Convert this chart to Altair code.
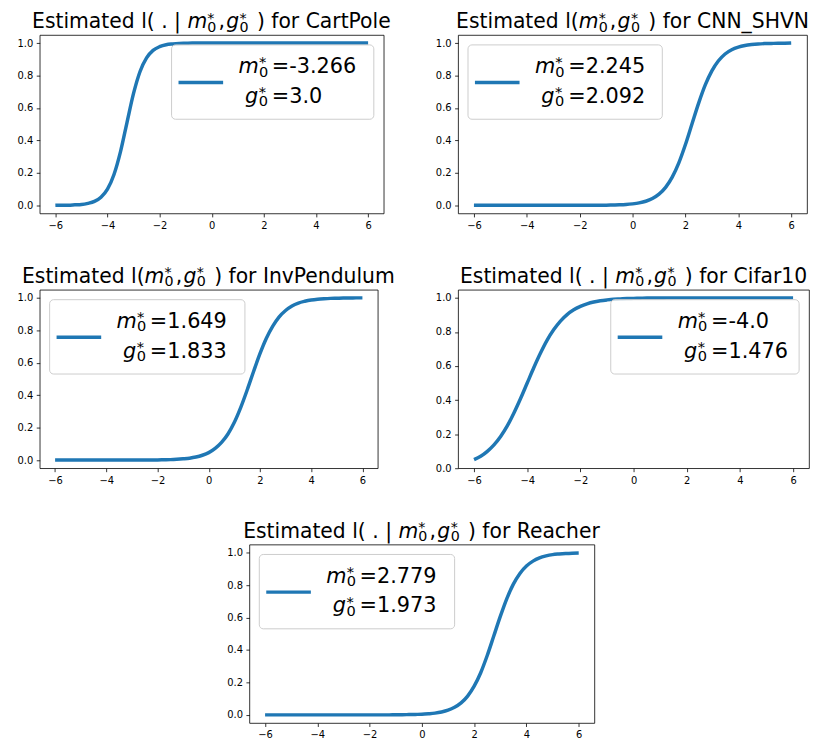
import altair as alt
import pandas as pd

# ---------------- data ----------------
X = [-6.0, -5.75, -5.5, -5.25, -5.0, -4.75, -4.5, -4.25, -4.0, -3.75, -3.5, -3.25,
     -3.0, -2.75, -2.5, -2.25, -2.0, -1.75, -1.5, -1.25, -1.0, -0.75, -0.5, -0.25,
     0.0, 0.25, 0.5, 0.75, 1.0, 1.25, 1.5, 1.75, 2.0, 2.25, 2.5, 2.75, 3.0, 3.25,
     3.5, 3.75, 4.0, 4.25, 4.5, 4.75, 5.0, 5.25, 5.5, 5.75, 6.0]

Y_CARTPOLE = [0.000, 0.001, 0.001, 0.003, 0.005, 0.012, 0.024, 0.050, 0.100, 0.190,
              0.331, 0.512, 0.690, 0.825, 0.909, 0.955, 0.978, 0.990, 0.995, 0.998,
              0.999, 1.000, 1.000, 1.000, 1.000, 1.000, 1.000, 1.000, 1.000, 1.000,
              1.000, 1.000, 1.000, 1.000, 1.000, 1.000, 1.000, 1.000, 1.000, 1.000,
              1.000, 1.000, 1.000, 1.000, 1.000, 1.000, 1.000, 1.000, 1.000]

Y_CNN_SHVN = [0.000, 0.000, 0.000, 0.000, 0.000, 0.000, 0.000, 0.000, 0.000, 0.000,
              0.000, 0.000, 0.000, 0.000, 0.000, 0.000, 0.000, 0.000, 0.000, 0.001,
              0.001, 0.002, 0.003, 0.005, 0.009, 0.015, 0.025, 0.042, 0.069, 0.111,
              0.174, 0.262, 0.375, 0.503, 0.630, 0.742, 0.829, 0.891, 0.933, 0.959,
              0.975, 0.985, 0.991, 0.995, 0.997, 0.998, 0.999, 0.999, 1.000]

Y_INVPENDULUM = [0.000, 0.000, 0.000, 0.000, 0.000, 0.000, 0.000, 0.000, 0.000, 0.000,
                 0.000, 0.000, 0.000, 0.000, 0.001, 0.001, 0.001, 0.002, 0.003, 0.005,
                 0.008, 0.012, 0.019, 0.030, 0.046, 0.072, 0.109, 0.161, 0.233, 0.325,
                 0.432, 0.546, 0.656, 0.751, 0.826, 0.883, 0.922, 0.950, 0.968, 0.979,
                 0.987, 0.992, 0.995, 0.997, 0.998, 0.999, 0.999, 1.000, 1.000]

Y_CIFAR10 = [0.050, 0.070, 0.099, 0.137, 0.186, 0.248, 0.324, 0.409, 0.500, 0.591,
             0.676, 0.752, 0.814, 0.864, 0.902, 0.930, 0.950, 0.965, 0.976, 0.983,
             0.988, 0.992, 0.994, 0.996, 0.997, 0.998, 0.999, 0.999, 0.999, 1.000,
             1.000, 1.000, 1.000, 1.000, 1.000, 1.000, 1.000, 1.000, 1.000, 1.000,
             1.000, 1.000, 1.000, 1.000, 1.000, 1.000, 1.000, 1.000, 1.000]

Y_REACHER = [0.000, 0.000, 0.000, 0.000, 0.000, 0.000, 0.000, 0.000, 0.000, 0.000,
             0.000, 0.000, 0.000, 0.000, 0.000, 0.000, 0.000, 0.000, 0.000, 0.000,
             0.001, 0.001, 0.002, 0.003, 0.004, 0.007, 0.011, 0.018, 0.029, 0.047,
             0.074, 0.116, 0.177, 0.260, 0.366, 0.486, 0.607, 0.717, 0.806, 0.872,
             0.918, 0.948, 0.968, 0.980, 0.988, 0.992, 0.995, 0.997, 0.998]

NAMES = ["CartPole", "CNN_SHVN", "InvPendulum", "Cifar10", "Reacher"]
M_LABELS = ["-3.266", "2.245", "1.649", "-4.0", "2.779"]
G_LABELS = ["3.0", "2.092", "1.833", "1.476", "1.973"]
SERIES = [Y_CARTPOLE, Y_CNN_SHVN, Y_INVPENDULUM, Y_CIFAR10, Y_REACHER]
X_TICKS = [-6, -4, -2, 0, 2, 4, 6]
Y_TICKS = [0.0, 0.2, 0.4, 0.6, 0.8, 1.0]

for s in SERIES:
    assert len(s) == len(X)

# ---------------- layout / style constants ----------------
BLUE = "#1f77b4"
FONT = "DejaVu Sans"
FT = 20.5       # title font size
FL = 21         # legend font size
PLOT_W = [347, 352, 341, 354, 348]
PLOT_H = 180
X_DOMAIN = [-6.6, 6.6]
Y_DOMAINS = [[-0.05, 1.05], [-0.05, 1.05], [-0.05, 1.05], [0.0, 1.0475], [-0.05, 1.05]]
PIPE_STYLE = [True, False, False, True, True]
LEG_SIDE = ["right", "left", "left", "right", "left"]
LEG_W = [204, 196, 197, 190, 197]
LEG_H = 75

ADV = {" ": 0.318, "(": 0.390, ")": 0.390, ".": 0.318, "|": 0.337, "\u2009": 0.2,
       "E": 0.632, "s": 0.521, "t": 0.392, "i": 0.278, "m": 0.974, "a": 0.613,
       "e": 0.615, "d": 0.635, "l": 0.278, "f": 0.352, "o": 0.612, "r": 0.411,
       "C": 0.698, "P": 0.603, "N": 0.748, "_": 0.500, "S": 0.635, "H": 0.752,
       "V": 0.684, "I": 0.295, "n": 0.634, "v": 0.592, "u": 0.634, "c": 0.550,
       "R": 0.695, "h": 0.634, "0": 0.636, "1": 0.636}


def tw(s, size):
    return sum(ADV.get(c, 0.6) for c in s) * size


ONE = pd.DataFrame({"k": [0]})


def txt(s, x, y, size, italic=False, align="left"):
    return alt.Chart(ONE).mark_text(
        text=s, font=FONT, fontSize=size, fontStyle="italic" if italic else "normal",
        align=align, baseline="alphabetic", color="black"
    ).encode(x=alt.value(x), y=alt.value(y))


def scripts(x, yb, size, up, down):
    return [txt("*", x, yb - up, size), txt("0", x, yb + down, size)]


def panel(i):
    w = PLOT_W[i]
    df = pd.DataFrame({"x": X, "y": SERIES[i]})
    line = alt.Chart(df).mark_line(
        color=BLUE, strokeWidth=3.5, interpolate="monotone"
    ).encode(
        x=alt.X("x:Q", scale=alt.Scale(domain=X_DOMAIN, nice=False, zero=False),
                axis=alt.Axis(values=X_TICKS, title=None)),
        y=alt.Y("y:Q", scale=alt.Scale(domain=Y_DOMAINS[i], nice=False, zero=False),
                axis=alt.Axis(values=Y_TICKS, format=".1f", title=None)),
    )
    layers = [line]

    # ---- legend ----
    L = 10 if LEG_SIDE[i] == "left" else w - 10 - LEG_W[i]
    T = 10
    layers.append(alt.Chart(ONE).mark_rect(
        fill="white", fillOpacity=0.8, stroke="#cccccc", strokeWidth=1, cornerRadius=4
    ).encode(x=alt.value(L), x2=alt.value(L + LEG_W[i]), y=alt.value(T), y2=alt.value(T + LEG_H)))
    layers.append(alt.Chart(ONE).mark_rule(color=BLUE, strokeWidth=3.5).encode(
        x=alt.value(L + 7), x2=alt.value(L + 52), y=alt.value(T + 38)))
    fs = 0.7 * FL
    xm = L + 67.5
    ym = T + 28.5
    yg = T + 58.5
    layers.append(txt("m", xm, ym, FL, italic=True))
    layers += scripts(xm + 0.98 * FL, ym, fs, 6, 3.5)
    layers.append(txt("=" + M_LABELS[i], xm + 1.6 * FL, ym, FL))
    xg = xm + 6.5
    layers.append(txt("g", xg, yg, FL, italic=True))
    layers += scripts(xg + 0.66 * FL, yg, fs, 6, 3.5)
    layers.append(txt("=" + G_LABELS[i], xg + 1.29 * FL, yg, FL))

    # ---- title ----
    if PIPE_STYLE[i]:
        pre = "Estimated l( . |"
        gap = 0.318 * FT
    else:
        pre = "Estimated l("
        gap = 0.0
    suf = ") for " + NAMES[i]
    ft = 0.7 * FT
    o_sc1 = 0.98 * FT
    o_com = o_sc1 + 0.55 * FT
    o_g = o_com + 0.38 * FT
    o_sc2 = o_g + 0.66 * FT
    o_suf = o_sc2 + 0.85 * FT
    wA = tw(pre, FT) + gap
    total = wA + o_suf + tw(suf, FT)
    P = w / 2 - total / 2 + wA
    yt = -7
    layers.append(txt(pre, P - gap, yt, FT, align="right"))
    layers.append(txt("m", P, yt, FT, italic=True))
    layers += scripts(P + o_sc1, yt, ft, 5.5, 3.5)
    layers.append(txt(",", P + o_com, yt, FT))
    layers.append(txt("g", P + o_g, yt, FT, italic=True))
    layers += scripts(P + o_sc2, yt, ft, 5.5, 3.5)
    layers.append(txt(suf, P + o_suf, yt, FT))

    return alt.layer(*layers).properties(width=w, height=PLOT_H)


def spacer(wd):
    return alt.Chart(ONE).mark_point(opacity=0, size=1).encode(
        x=alt.value(0), y=alt.value(0)
    ).properties(width=wd, height=PLOT_H, view=alt.ViewBackground(stroke="transparent"))


row1 = alt.hconcat(panel(0), panel(1), spacing=75, bounds="flush")
row2 = alt.hconcat(panel(2), panel(3), spacing=81, bounds="flush")
row3 = alt.hconcat(spacer(1), panel(4), spacing=210.5, bounds="flush")

chart = alt.vconcat(row1, row2, row3, spacing=35).properties(
    padding={"left": 8, "top": 0, "right": 2, "bottom": 5}
).configure_view(
    stroke="black", strokeWidth=0.8
).configure_axis(
    labelFont=FONT, labelFontSize=10, labelColor="black", tickColor="black",
    tickSize=3.5, tickWidth=0.8, labelPadding=3.5, domain=False, grid=False
)

chart.save("out.html", embed_options={"renderer": "svg", "actions": False})
